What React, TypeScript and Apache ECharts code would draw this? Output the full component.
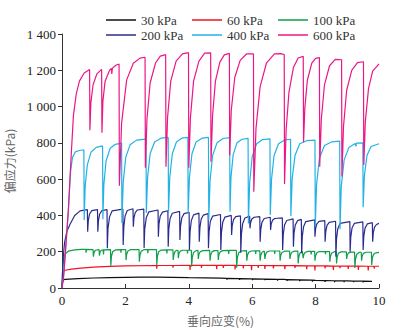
import React, { useEffect, useRef } from "react";
import * as echarts from "echarts";

type P = [number, number];

const xTicks = [0, 2, 4, 6, 8, 10];
const yTicks = [0, 200, 400, 600, 800, 1000, 1200, 1400];

const seriesNames = ["30 kPa", "60 kPa", "100 kPa", "200 kPa", "400 kPa", "600 kPa"];
const seriesColors = ["#111111", "#f0141e", "#0f9e4a", "#2b2b8f", "#22b2e6", "#ec1686"];

const s30: P[] = [
  [0, 0], [0.02, 35], [0.05, 46], [0.1, 48], [0.5, 52], [1, 55], [1.5, 57], [2, 59], [2.5, 60], [3, 60],
  [3.5, 59], [4, 57], [4.5, 56], [5, 54], [5.19, 53], [5.2, 47], [5.21, 53], [5.59, 52], [5.6, 45], [5.61, 52],
  [6, 50], [6.01, 44], [6.02, 50], [6.39, 49], [6.4, 43], [6.41, 49], [6.79, 48], [6.8, 41], [6.81, 48],
  [7, 47], [7.09, 46], [7.1, 39], [7.11, 46], [7.49, 45], [7.5, 38], [7.51, 45], [7.89, 43], [7.9, 35], [7.91, 43],
  [8, 42], [8.29, 41], [8.3, 34], [8.31, 41], [8.59, 40], [8.6, 32], [8.61, 40], [8.89, 39], [8.9, 33], [8.91, 39],
  [9, 39], [9.19, 38], [9.2, 32], [9.21, 38], [9.49, 38], [9.5, 31], [9.51, 38], [9.78, 37],
];

const s60: P[] = [
  [0, 0], [0.02, 60], [0.05, 92], [0.1, 98], [0.3, 104], [0.6, 110], [1.0, 115], [1.5, 119], [2.0, 122],
  [2.98, 124], [2.99, 106], [3.0, 124], [3.49, 124], [3.5, 112], [3.51, 124], [4.03, 125], [4.04, 100], [4.05, 125],
  [4.39, 125], [4.4, 110], [4.41, 125], [4.87, 125], [4.88, 104], [4.89, 125], [5.08, 125], [5.09, 110], [5.1, 125],
  [5.45, 125], [5.46, 102], [5.47, 125], [5.71, 124], [5.72, 108], [5.73, 124], [5.97, 124], [5.98, 98], [5.99, 124],
  [6.18, 124], [6.19, 110], [6.2, 124], [6.39, 124], [6.4, 105], [6.41, 124], [6.66, 123], [6.67, 108], [6.68, 123],
  [7.02, 123], [7.03, 103], [7.04, 123], [7.34, 123], [7.35, 110], [7.36, 123], [7.71, 122], [7.72, 104], [7.73, 122],
  [7.97, 122], [7.98, 96], [7.99, 122], [8.29, 122], [8.3, 108], [8.31, 122], [8.55, 121], [8.56, 100], [8.57, 121],
  [8.76, 121], [8.77, 110], [8.78, 121], [9.02, 121], [9.03, 105], [9.04, 121], [9.34, 121], [9.35, 100], [9.36, 121],
  [9.65, 120], [9.66, 97], [9.67, 120], [9.84, 120], [9.85, 106], [9.86, 120], [10.0, 120],
];

const s100: P[] = [
  [0, 0], [0.02, 100], [0.05, 160], [0.1, 188], [0.2, 203], [0.4, 210], [0.6, 213], [0.75, 213], [0.76, 195], [0.77, 213], [0.98, 212],
  [0.99, 173], [1.01, 195], [1.05, 208], [1.17, 212],
  [1.18, 178], [1.2, 198], [1.24, 208], [1.3, 210], [1.31, 185], [1.32, 210], [1.53, 212],
  [1.54, 123], [1.56, 175], [1.6, 200], [1.68, 210], [1.85, 212], [1.86, 195], [1.87, 212], [2.01, 212],
  [2.02, 154], [2.04, 186], [2.08, 204], [2.16, 211], [2.43, 212],
  [2.44, 145], [2.46, 182], [2.5, 203], [2.58, 211], [2.7, 212], [2.71, 192], [2.72, 211], [2.98, 211],
  [2.99, 127], [3.01, 175], [3.05, 200], [3.13, 209], [3.3, 210], [3.31, 190], [3.32, 210], [3.5, 210],
  [3.51, 155], [3.53, 185], [3.57, 202], [3.63, 208], [3.66, 208],
  [3.67, 165], [3.69, 190], [3.73, 203], [3.8, 208], [3.95, 208], [3.96, 190], [3.97, 208], [4.08, 208],
  [4.09, 118], [4.11, 168], [4.15, 196], [4.23, 206], [4.29, 207],
  [4.3, 160], [4.32, 186], [4.36, 200], [4.44, 206], [4.66, 207],
  [4.67, 150], [4.69, 182], [4.73, 199], [4.8, 206], [4.92, 206],
  [4.93, 155], [4.95, 183], [4.99, 199], [5.07, 206], [5.25, 207], [5.26, 188], [5.27, 207], [5.5, 207],
  [5.51, 112], [5.53, 165], [5.57, 193], [5.65, 204], [5.82, 206],
  [5.83, 150], [5.85, 180], [5.89, 197], [5.97, 204], [6.1, 205], [6.11, 188], [6.12, 205], [6.24, 205],
  [6.25, 150], [6.27, 180], [6.31, 197], [6.38, 204], [6.39, 204],
  [6.4, 160], [6.42, 184], [6.46, 198], [6.54, 204], [6.7, 204], [6.71, 188], [6.72, 204], [6.87, 204],
  [6.88, 150], [6.9, 180], [6.94, 196], [7.02, 203], [7.18, 203],
  [7.19, 160], [7.21, 183], [7.25, 197], [7.33, 203], [7.44, 203],
  [7.45, 135], [7.47, 172], [7.51, 193], [7.58, 202], [7.6, 202],
  [7.61, 165], [7.63, 185], [7.67, 196], [7.75, 202], [7.85, 202], [7.86, 185], [7.87, 202], [7.97, 202],
  [7.98, 150], [8.0, 178], [8.04, 194], [8.12, 201], [8.3, 201], [8.31, 186], [8.32, 201], [8.44, 201],
  [8.45, 145], [8.47, 176], [8.51, 193], [8.59, 200], [8.65, 200],
  [8.66, 135], [8.68, 171], [8.72, 191], [8.8, 199], [8.97, 199],
  [8.98, 160], [9.0, 182], [9.04, 194], [9.12, 198], [9.23, 198],
  [9.24, 110], [9.26, 160], [9.3, 186], [9.38, 197], [9.44, 197],
  [9.45, 150], [9.47, 176], [9.51, 191], [9.59, 197], [9.76, 197],
  [9.77, 127], [9.79, 165], [9.83, 186], [9.9, 194], [10.0, 196],
];

const s200: P[] = [
  [0, 0], [0.03, 150], [0.08, 250], [0.15, 310], [0.25, 350], [0.4, 400], [0.57, 425], [0.8, 432],
  [0.81, 310], [0.83, 371], [0.87, 408], [0.94, 426], [1.12, 432],
  [1.13, 310], [1.15, 371], [1.19, 408], [1.26, 426], [1.42, 432],
  [1.43, 219], [1.45, 327], [1.5, 392], [1.58, 425], [1.92, 435],
  [1.93, 237], [1.95, 337], [1.99, 397], [2.06, 427], [2.24, 437],
  [2.25, 338], [2.27, 387], [2.31, 415], [2.38, 430], [2.58, 435],
  [2.59, 220], [2.61, 325], [2.66, 388], [2.74, 420], [3.03, 430],
  [3.04, 283], [3.06, 355], [3.1, 397], [3.17, 418], [3.34, 426],
  [3.35, 228], [3.37, 325], [3.41, 383], [3.48, 412], [3.71, 422],
  [3.72, 265], [3.74, 341], [3.78, 387], [3.85, 410], [4.01, 417],
  [4.02, 209], [4.04, 311], [4.08, 372], [4.15, 403], [4.32, 413],
  [4.33, 255], [4.35, 332], [4.39, 379], [4.46, 402], [4.61, 410],
  [4.62, 219], [4.64, 312], [4.68, 368], [4.75, 396], [5.0, 405],
  [5.01, 209], [5.03, 305], [5.07, 362], [5.14, 391], [5.34, 400],
  [5.35, 292], [5.37, 345], [5.41, 377], [5.48, 393], [5.63, 398],
  [5.64, 195], [5.66, 296], [5.7, 356], [5.77, 386], [5.92, 396],
  [5.93, 329], [5.95, 361], [5.99, 380], [6.06, 390], [6.24, 393],
  [6.25, 255], [6.27, 322], [6.31, 363], [6.38, 383], [6.57, 390],
  [6.58, 320], [6.6, 353], [6.64, 373], [6.71, 383], [6.95, 386],
  [6.96, 209], [6.98, 295], [7.02, 347], [7.09, 372], [7.29, 381],
  [7.3, 228], [7.32, 303], [7.36, 348], [7.43, 371], [7.55, 378],
  [7.56, 191], [7.58, 283], [7.62, 338], [7.69, 366], [7.97, 375],
  [7.98, 283], [8.0, 327], [8.04, 353], [8.11, 367], [8.29, 371],
  [8.3, 255], [8.32, 311], [8.36, 345], [8.43, 362], [8.63, 368],
  [8.64, 173], [8.66, 270], [8.7, 327], [8.77, 356], [9.08, 366],
  [9.09, 200], [9.11, 282], [9.15, 331], [9.22, 356], [9.49, 364],
  [9.5, 209], [9.52, 285], [9.56, 330], [9.63, 353], [9.79, 360],
  [9.8, 255], [9.82, 305], [9.86, 336], [9.92, 350], [10.0, 356],
];

const s400: P[] = [
  [0, 0], [0.05, 70], [0.1, 180], [0.2, 420], [0.27, 640], [0.33, 720], [0.42, 750], [0.55, 758], [0.69, 762],
  [0.7, 375], [0.73, 560], [0.8, 680], [0.92, 750], [1.08, 775], [1.28, 783],
  [1.29, 379], [1.32, 570], [1.39, 700], [1.52, 770], [1.68, 792], [1.88, 799],
  [1.89, 358], [1.93, 580], [2.01, 720], [2.15, 790], [2.35, 815], [2.65, 821],
  [2.66, 413], [2.7, 610], [2.78, 740], [2.92, 805], [3.12, 826], [3.35, 830],
  [3.36, 413], [3.4, 610], [3.48, 740], [3.61, 805], [3.78, 826], [3.97, 830],
  [3.98, 413], [4.02, 610], [4.1, 740], [4.23, 805], [4.42, 826], [4.62, 830],
  [4.63, 375], [4.67, 590], [4.75, 730], [4.89, 800], [5.08, 824], [5.29, 829],
  [5.3, 421], [5.33, 610], [5.4, 735], [5.52, 800], [5.68, 820], [5.87, 825],
  [5.88, 356], [5.92, 580], [6.0, 725], [6.14, 795], [6.33, 818], [6.56, 822],
  [6.57, 402], [6.61, 600], [6.69, 730], [6.83, 795], [7.01, 815], [7.21, 820],
  [7.22, 397], [7.26, 600], [7.35, 730], [7.5, 795], [7.72, 812], [7.98, 815],
  [7.99, 338], [8.03, 570], [8.12, 715], [8.28, 785], [8.5, 805], [8.76, 810],
  [8.77, 324], [8.81, 560], [8.9, 705], [9.05, 775], [9.25, 797], [9.27, 780], [9.29, 798], [9.49, 800],
  [9.5, 445], [9.54, 620], [9.62, 730], [9.75, 780], [10.0, 795],
];

const s600: P[] = [
  [0, 0], [0.05, 60], [0.1, 180], [0.2, 430], [0.28, 700], [0.36, 950], [0.45, 1070], [0.55, 1140], [0.7, 1185], [0.87, 1205],
  [0.88, 870], [0.91, 1020], [0.98, 1120], [1.1, 1180], [1.25, 1205],
  [1.26, 856], [1.29, 1030], [1.36, 1140], [1.5, 1200], [1.56, 1210], [1.57, 1180], [1.59, 1212], [1.7, 1228], [1.8, 1235],
  [1.81, 564], [1.88, 909], [2.04, 1147], [2.25, 1239], [2.46, 1267], [2.62, 1272],
  [2.63, 663], [2.68, 930], [2.78, 1130], [2.95, 1240], [3.1, 1278], [3.27, 1286],
  [3.28, 669], [3.33, 940], [3.43, 1140], [3.6, 1250], [3.8, 1290], [3.99, 1297],
  [4.0, 663], [4.05, 935], [4.15, 1140], [4.32, 1250], [4.5, 1295], [4.69, 1296],
  [4.7, 696], [4.75, 950], [4.84, 1140], [4.98, 1245], [5.12, 1285], [5.28, 1293],
  [5.29, 730], [5.34, 980], [5.45, 1160], [5.62, 1255], [5.82, 1290], [6.04, 1290],
  [6.05, 531], [6.12, 880], [6.25, 1110], [6.45, 1240], [6.7, 1290], [6.9, 1292], [7.01, 1287],
  [7.02, 573], [7.07, 870], [7.16, 1080], [7.3, 1215], [7.45, 1268], [7.61, 1277],
  [7.62, 803], [7.66, 990], [7.74, 1145], [7.88, 1240], [8.0, 1266], [8.12, 1270],
  [8.13, 669], [8.18, 930], [8.28, 1120], [8.44, 1225], [8.62, 1260], [8.82, 1258],
  [8.83, 614], [8.88, 890], [8.98, 1090], [9.14, 1200], [9.32, 1242], [9.51, 1247],
  [9.52, 678], [9.57, 920], [9.67, 1100], [9.8, 1195], [10.0, 1235],
];

const seriesData = [s30, s60, s100, s200, s400, s600];

const legendPos = [
  { left: 106, top: 13 }, { left: 192, top: 13 }, { left: 278, top: 13 },
  { left: 106, top: 28 }, { left: 192, top: 28 }, { left: 278, top: 28 },
];

const serif = "Liberation Serif";
const cjk = "Noto Sans CJK SC";

function fmtY(v: number): string {
  if (v >= 1000) {
    const s = String(v);
    return s.slice(0, s.length - 3) + " " + s.slice(s.length - 3);
  }
  return String(v);
}

export default function App() {
  const ref = useRef<HTMLDivElement>(null);
  useEffect(() => {
    if (!ref.current) return;
    const chart = echarts.init(ref.current, undefined, { renderer: "svg" });
    chart.setOption({
      animation: false,
      backgroundColor: "#ffffff",
      textStyle: { fontFamily: serif },
      grid: { left: 62, right: 31, top: 34, bottom: 42, containLabel: false, outerBoundsMode: "none" },
      legend: seriesNames.map((n, i) => ({
        data: [{ name: n, icon: "rect" }],
        left: legendPos[i].left,
        top: legendPos[i].top,
        padding: 0,
        itemWidth: 30,
        itemHeight: 1.5,
        itemGap: 4,
        itemStyle: { color: seriesColors[i], borderWidth: 0 },
        lineStyle: { width: 0 },
        textStyle: { fontFamily: serif, fontSize: 13, color: "#333", lineHeight: 14 },
      })),
      xAxis: {
        type: "value",
        min: xTicks[0],
        max: xTicks[xTicks.length - 1],
        interval: 2,
        splitLine: { show: false },
        axisLine: { lineStyle: { color: "#333", width: 1 } },
        axisTick: { inside: true, length: 4, lineStyle: { color: "#333" } },
        axisLabel: { fontFamily: serif, fontSize: 13, color: "#222", margin: 6 },
        name: "垂向应变(%)",
        nameLocation: "middle",
        nameGap: 26,
        nameTextStyle: { fontFamily: cjk, fontSize: 12, color: "#666" },
      },
      yAxis: {
        type: "value",
        min: yTicks[0],
        max: yTicks[yTicks.length - 1],
        interval: 200,
        splitLine: { show: false },
        axisLine: { show: true, lineStyle: { color: "#333", width: 1 } },
        axisTick: { show: true, inside: false, length: 4, lineStyle: { color: "#333" } },
        axisLabel: { fontFamily: serif, fontSize: 13, color: "#222", margin: 6, formatter: fmtY },
        name: "偏应力(kPa)",
        nameLocation: "middle",
        nameGap: 37,
        nameRotate: 90,
        nameTextStyle: { fontFamily: cjk, fontSize: 12, color: "#666" },
      },
      series: seriesNames.map((n, i) => ({
        name: n,
        type: "line",
        data: seriesData[i],
        symbol: "none",
        showSymbol: false,
        color: seriesColors[i],
        lineStyle: { color: seriesColors[i], width: 1.2 },
        z: 2 + i,
      })),
    });
    return () => chart.dispose();
  }, []);
  return (
    <div
      ref={ref}
      style={{ position: "fixed", left: 0, top: 0, width: 410, height: 330 }}
    />
  );
}
